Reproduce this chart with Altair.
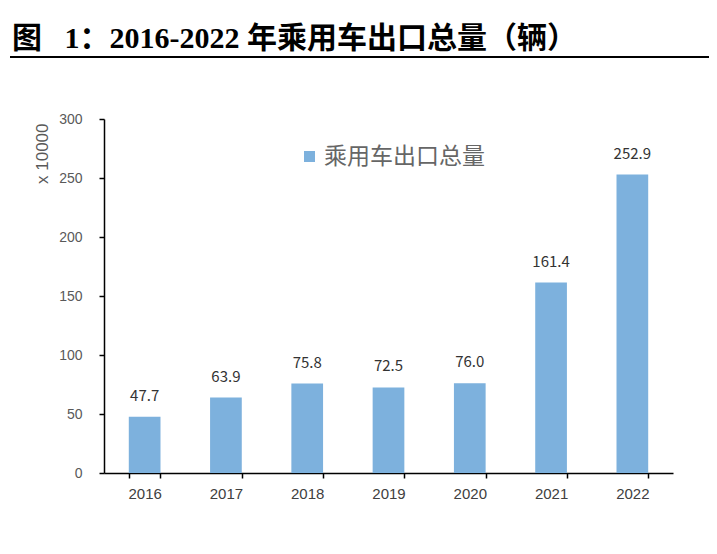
import altair as alt
import pandas as pd

years = ["2016", "2017", "2018", "2019", "2020", "2021", "2022"]
values = [47.7, 63.9, 75.8, 72.5, 76.0, 161.4, 252.9]
series_name = "乘用车出口总量"
y_ticks = [0, 50, 100, 150, 200, 250, 300]
title_text = ["图\u00a0\u00a0\u00a01：2016-2022\u00a0年乘用车出口总量（辆）"]

df = pd.DataFrame({"year": years, "value": values, "series": [series_name] * len(years)})
title_df = pd.DataFrame({"t": title_text})

BAR = "#7DB1DD"
AXFONT = "Liberation Sans"

x_enc = alt.X(
    "year:N", sort=years,
    scale=alt.Scale(paddingInner=0.61, paddingOuter=0.305),
    axis=alt.Axis(title=None, labelAngle=0, tickBand="extent", domainColor="#000000",
                  domainWidth=1.5, tickColor="#000000", tickWidth=1.5, tickSize=5,
                  labelFont=AXFONT, labelFontSize=15, labelColor="#404040", labelPadding=8,
                  grid=False),
)
y_enc = alt.Y(
    "value:Q",
    scale=alt.Scale(domain=[0, 300], nice=False, zero=True),
    axis=alt.Axis(values=y_ticks, title="x 10000", titleFont=AXFONT, titleFontSize=17,
                  titleFontWeight="normal", titleColor="#595959", titleAngle=-90,
                  titleX=-62, titleY=4, titleAlign="right", titleBaseline="middle",
                  domainColor="#000000", domainWidth=1.5, tickColor="#000000", tickWidth=1.5,
                  tickSize=5, labelFont=AXFONT, labelFontSize=14, labelColor="#595959",
                  labelPadding=17, grid=False),
)

base = alt.Chart(df)

bars = base.mark_bar(color=BAR).encode(
    x=x_enc,
    y=y_enc,
    color=alt.Color(
        "series:N",
        scale=alt.Scale(range=[BAR]),
        legend=alt.Legend(orient="none", legendX=194, legendY=26, title=None,
                          symbolType="square", symbolSize=121, symbolStrokeWidth=0,
                          labelFont="Noto Sans CJK SC", labelFontSize=23, labelColor="#666666",
                          labelFontWeight="normal", labelOffset=3, labelLimit=400, padding=0),
    ),
)

labels = base.mark_text(dy=-13, baseline="bottom", fontSize=15, color="#333333",
                        font="Noto Sans CJK SC").encode(
    x=alt.X("year:N", sort=years),
    y=alt.Y("value:Q"),
    text=alt.Text("value:Q", format=".1f"),
)

rule = alt.Chart(title_df).mark_rule(color="#000000", strokeWidth=2).encode(
    x=alt.value(-94), x2=alt.value(606), y=alt.value(-62)
)

title = alt.Chart(title_df).mark_text(
    align="left", baseline="alphabetic", font="Liberation Serif, Noto Sans CJK SC",
    fontSize=30, fontWeight="bold", color="#000000"
).encode(x=alt.value(-92), y=alt.value(-71), text="t:N")

chart = alt.layer(bars, labels, rule, title).properties(
    width=569,
    height=354,
    padding={"left": 96, "top": 111, "right": 36, "bottom": 73},
    autosize=alt.AutoSizeParams(type="none"),
    background="#ffffff",
).configure_view(stroke=None)

chart.save("out.html", embed_options={"renderer": "svg", "actions": False})
